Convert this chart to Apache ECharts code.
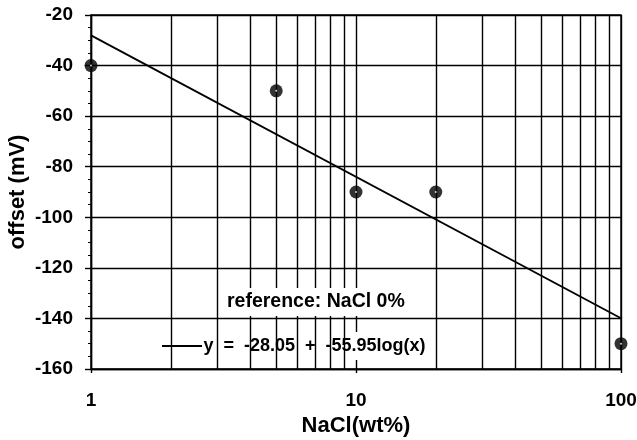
<!DOCTYPE html>
<html><head><meta charset="utf-8">
<script src="https://cdn.jsdelivr.net/npm/echarts@6/dist/echarts.min.js"></script>
<style>html,body{margin:0;padding:0;background:#fff}#c{width:637px;height:440px}</style>
</head><body><div id="c"></div>
<script>
const xValues = [1, 5, 10, 20, 100];
const yValues = [-40, -50, -90, -90, -150];
const fitX = [1, 100];
const fitY = [-28.05, -139.95];
const minorGridX = [2, 3, 4, 5, 6, 7, 8, 9, 20, 30, 40, 50, 60, 70, 80, 90];
const xTickLabels = ['1', '10', '100'];
const fitName = 'y  =  -28.05  +  -55.95log(x)';
const noteText = 'reference: NaCl 0%';

const FONT = 'Liberation Sans, Arial, Helvetica, sans-serif';
const pts = xValues.map((x, i) => [x, yValues[i]]);
const fit = fitX.map((x, i) => [x, fitY[i]]);

const chart = echarts.init(document.getElementById('c'));
chart.setOption({
  animation: false,
  backgroundColor: '#fff',
  title: {
    text: noteText,
    left: 223, top: 288,
    padding: [4, 8, 4, 4],
    backgroundColor: '#fff',
    textStyle: { fontFamily: FONT, fontSize: 19.5, fontWeight: 'bold', color: '#000' }
  },
  legend: {
    data: [{ name: fitName, icon: 'path://M0,0L40,0L40,2L0,2Z' }],
    left: 100, top: 332,
    padding: [5, 98, 5, 62],
    itemWidth: 41, itemHeight: 2,
    itemGap: 0,
    backgroundColor: '#fff',
    selectedMode: false,
    textStyle: { fontFamily: FONT, fontSize: 18, fontWeight: 'bold', color: '#000', padding: [0, 0, 0, -4] }
  },
  grid: {
    left: 91, right: 16, top: 15, bottom: 71,
    outerBoundsMode: 'none', containLabel: false,
    show: true, borderColor: '#000', borderWidth: 1.4, backgroundColor: 'transparent'
  },
  xAxis: {
    type: 'log', logBase: 10, min: 1, max: 100,
    name: 'NaCl(wt%)', nameLocation: 'middle', nameGap: 46, nameMoveOverlap: false,
    nameTextStyle: { fontFamily: FONT, fontSize: 22, fontWeight: 'bold', color: '#000' },
    axisLine: { lineStyle: { color: '#000', width: 1.4 } },
    axisTick: { show: true, length: 4, lineStyle: { color: '#000', width: 1.4 } },
    axisLabel: {
      fontFamily: FONT, fontSize: 19, fontWeight: 'bold', color: '#000', margin: 22,
      formatter: v => { const s = String(Math.round(v)); return xTickLabels.includes(s) ? s : ''; }
    },
    splitLine: { show: true, lineStyle: { color: '#000', width: 1.4 } }
  },
  yAxis: {
    type: 'value', min: -160, max: -20, interval: 20,
    name: 'offset (mV)', nameLocation: 'middle', nameGap: 62, nameRotate: 90, nameMoveOverlap: false,
    nameTextStyle: { fontFamily: FONT, fontSize: 22, fontWeight: 'bold', color: '#000' },
    axisLine: { show: true, lineStyle: { color: '#000', width: 1.4 } },
    axisTick: { show: true, length: 6, lineStyle: { color: '#000', width: 1.4 } },
    minorTick: { show: true, splitNumber: 4, length: 3, lineStyle: { color: '#000' } },
    axisLabel: { fontFamily: FONT, fontSize: 19, fontWeight: 'bold', color: '#000', margin: 18 },
    splitLine: { show: true, lineStyle: { color: '#000', width: 1.4 } }
  },
  series: [
    {
      name: 'minor', type: 'line', data: [], silent: true,
      markLine: {
        silent: true, symbol: 'none', label: { show: false },
        lineStyle: { color: '#000', width: 1.4, type: 'solid' },
        data: minorGridX.map(v => ({ xAxis: v }))
      }
    },
    {
      name: fitName, type: 'line', data: fit, showSymbol: false, symbol: 'none',
      lineStyle: { color: '#000', width: 1.8 }, itemStyle: { color: '#000' }, z: 3
    },
    {
      name: 'data', type: 'scatter', data: pts, symbol: 'circle', symbolSize: 13, clip: false,
      itemStyle: { color: '#000' }, z: 4
    },
    {
      name: 'dot', type: 'scatter', data: pts, symbol: 'circle', symbolSize: 2, clip: false,
      itemStyle: { color: '#fff' }, z: 5, silent: true
    }
  ]
});
</script></body></html>
